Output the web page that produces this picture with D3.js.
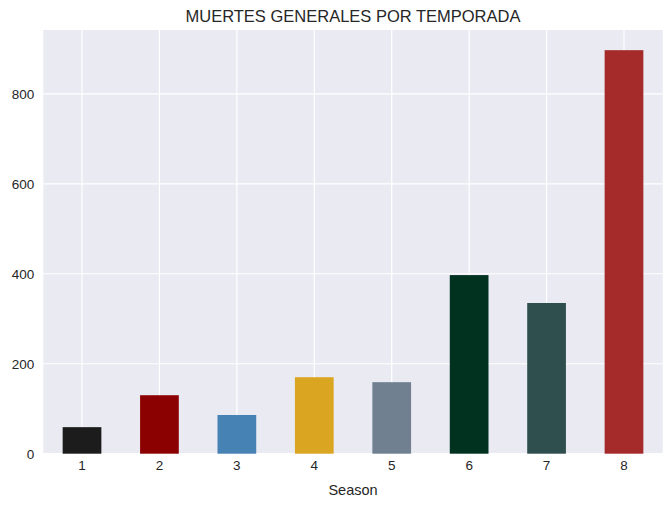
<!DOCTYPE html>
<html>
<head>
<meta charset="utf-8">
<script src="https://cdn.jsdelivr.net/npm/d3@7"></script>
<style>
  body { margin: 0; background: #fff; }
  text { font-family: "Liberation Sans", Arial, sans-serif; fill: #262626; }
</style>
</head>
<body>
<div id="chart"></div>
<script>
// data
var seasons = ["1", "2", "3", "4", "5", "6", "7", "8"];
var deaths = [59, 130, 86, 170, 159, 397, 335, 897];
var barColors = ["#1c1c1c", "#8b0000", "#4682b4", "#daa520", "#708090", "#013220", "#2f4f4f", "#a52a2a"];
var yTicks = [0, 200, 400, 600, 800];

var svgWidth = 672;
var svgHeight = 507;

var margin = {
    top: 30,
    right: 9.3,
    bottom: 53.3,
    left: 43.3
};

var width = svgWidth - margin.left - margin.right;
var height = svgHeight - margin.top - margin.bottom;

var svg = d3.select("#chart")
    .append("svg")
    .attr("width", svgWidth)
    .attr("height", svgHeight);

var chartGroup = svg.append("g")
    .attr("transform", `translate(${margin.left},${margin.top})`);

var xScale = d3.scaleBand()
    .domain(seasons)
    .range([0, width])
    .paddingInner(0.5)
    .paddingOuter(0.25);

var yScale = d3.scaleLinear()
    .domain([0, d3.max(deaths) * 1.05])
    .range([height, 0]);

// background
chartGroup.append("rect")
    .attr("width", width)
    .attr("height", height)
    .attr("fill", "#eaeaf2");

// grid
chartGroup.selectAll("line.ygrid")
    .data(yTicks)
    .enter()
    .append("line")
    .attr("x1", 0)
    .attr("x2", width)
    .attr("y1", d => yScale(d))
    .attr("y2", d => yScale(d))
    .attr("stroke", "#fff")
    .attr("stroke-width", 1.2);

chartGroup.selectAll("line.xgrid")
    .data(seasons)
    .enter()
    .append("line")
    .attr("x1", d => xScale(d) + xScale.bandwidth() / 2)
    .attr("x2", d => xScale(d) + xScale.bandwidth() / 2)
    .attr("y1", 0)
    .attr("y2", height)
    .attr("stroke", "#fff")
    .attr("stroke-width", 1.2);

// bars
chartGroup.selectAll("rect.bar")
    .data(deaths)
    .enter()
    .append("rect")
    .attr("class", "bar")
    .attr("x", (d, i) => xScale(seasons[i]))
    .attr("y", d => yScale(d))
    .attr("width", xScale.bandwidth())
    .attr("height", d => height - yScale(d))
    .attr("fill", (d, i) => barColors[i]);

// axes
var bottomAxis = d3.axisBottom(xScale).tickSize(0).tickPadding(7);
var leftAxis = d3.axisLeft(yScale).tickValues(yTicks).tickSize(0).tickPadding(9);

var xAxis = chartGroup.append("g")
    .attr("transform", `translate(0, ${height})`)
    .call(bottomAxis);

var yAxis = chartGroup.append("g")
    .call(leftAxis);

[xAxis, yAxis].forEach(function(ax) {
    ax.attr("color", "#262626");
    ax.select(".domain").remove();
    ax.selectAll("text")
        .style("font-family", "'Liberation Sans', Arial, sans-serif")
        .style("font-size", "13.5px")
        .style("fill", "#262626");
});

// labels
chartGroup.append("text")
    .attr("x", width / 2)
    .attr("y", height + 41)
    .attr("text-anchor", "middle")
    .style("font-size", "14.5px")
    .text("Season");

chartGroup.append("text")
    .attr("x", width / 2)
    .attr("y", -8)
    .attr("text-anchor", "middle")
    .style("font-size", "16.5px")
    .text("MUERTES GENERALES POR TEMPORADA");
</script>
</body>
</html>
